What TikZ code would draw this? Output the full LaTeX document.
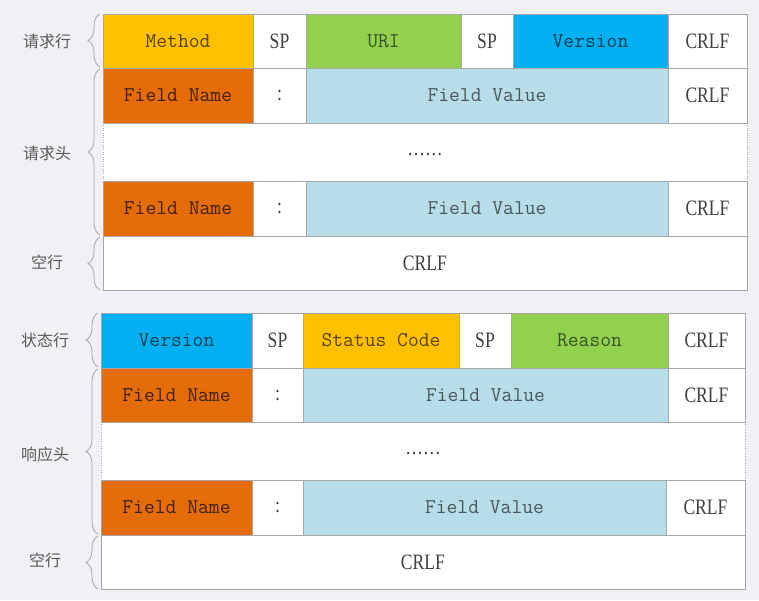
\documentclass[tikz,border=0pt]{standalone}
\usepackage{fontspec}
\setmainfont{Liberation Serif}
\newfontfamily\narrowserif[FakeStretch=0.8]{Liberation Serif}
\newfontfamily\cjk{Noto Sans CJK SC}
\usetikzlibrary{decorations.pathreplacing}

\definecolor{bgcol}{HTML}{F1F1F5}
\definecolor{linecol}{HTML}{A6A6A6}
\definecolor{gold}{HTML}{FFC000}
\definecolor{grass}{HTML}{92D050}
\definecolor{sky}{HTML}{00B0F0}
\definecolor{rust}{HTML}{E46C0A}
\definecolor{ice}{HTML}{B7DDE8}

\tikzset{
  cell/.style={draw=linecol, line width=0.8pt},
  mono/.style={font=\fontsize{21}{21}\selectfont\ttfamily},
  serif/.style={font=\fontsize{22}{22}\selectfont\narrowserif, text=black!75},
  tag/.style={font=\fontsize{16}{16}\selectfont\cjk, text=black!65},
  curly/.style={draw=linecol, line width=0.8pt, decorate,
    decoration={brace, amplitude=12pt}},
}

\begin{document}
\begin{tikzpicture}[x=1pt, y=-1pt]
	\fill[bgcol] (0,0) rectangle (759,600);

	% Request line
	\draw[cell, fill=gold] (103,14) rectangle (253,68);
	\draw[cell, fill=white] (253,14) rectangle (306,68);
	\draw[cell, fill=grass] (306,14) rectangle (461,68);
	\draw[cell, fill=white] (461,14) rectangle (513,68);
	\draw[cell, fill=sky] (513,14) rectangle (668,68);
	\draw[cell, fill=white] (668,14) rectangle (747,68);
	\node[mono, text=gold!35!black] (method) at (178,41) {Method};
	\node[serif] (sp1) at (279.5,41) {SP};
	\node[mono, text=grass!40!black] (uri) at (383.5,41) {URI};
	\node[serif] (sp2) at (487,41) {SP};
	\node[mono, text=sky!35!black] (version1) at (590.5,41) {Version};
	\node[serif] (crlf1) at (707.5,41) {CRLF};

	% Request header
	\fill[white] (103,123) rectangle (747,181);
	\draw[linecol, dotted] (103,123) -- (103,181);
	\draw[linecol, dotted] (747,123) -- (747,181);
	\node[serif] (dots1) at (425,155) {……};

	\draw[cell, fill=rust] (103,68) rectangle (253,123);
	\draw[cell, fill=white] (253,68) rectangle (306,123);
	\draw[cell, fill=ice] (306,68) rectangle (668,123);
	\draw[cell, fill=white] (668,68) rectangle (747,123);
	\node[mono, text=rust!30!black] (name1) at (178,95.5) {Field Name};
	\node[serif] (colon1) at (279.5,95.5) {:};
	\node[mono, text=ice!40!black] (value1) at (487,95.5) {Field Value};
	\node[serif] (crlf2) at (707.5,95.5) {CRLF};

	\draw[cell, fill=rust] (103,181) rectangle (253,236);
	\draw[cell, fill=white] (253,181) rectangle (306,236);
	\draw[cell, fill=ice] (306,181) rectangle (668,236);
	\draw[cell, fill=white] (668,181) rectangle (747,236);
	\node[mono, text=rust!30!black] (name2) at (178,208.5) {Field Name};
	\node[serif] (colon2) at (279.5,208.5) {:};
	\node[mono, text=ice!40!black] (value2) at (487,208.5) {Field Value};
	\node[serif] (crlf3) at (707.5,208.5) {CRLF};

	% Blank line
	\draw[cell, fill=white] (103,236) rectangle (747,290);
	\node[serif] (crlf4) at (425,263) {CRLF};

	% Braces
	\draw[curly] (100,67) -- (100,14);
	\draw[curly] (100,235) -- (100,69);
	\draw[curly] (100,290) -- (100,237);
	\node[tag] (reqline) at (47,41) {请求行};
	\node[tag] (reqhead) at (47,153) {请求头};
	\node[tag] (reqblank) at (47,262) {空行};

	% Status line
	\draw[cell, fill=sky] (101,313) rectangle (252,368);
	\draw[cell, fill=white] (252,313) rectangle (303,368);
	\draw[cell, fill=gold] (303,313) rectangle (459,368);
	\draw[cell, fill=white] (459,313) rectangle (511,368);
	\draw[cell, fill=grass] (511,313) rectangle (668,368);
	\draw[cell, fill=white] (668,313) rectangle (745,368);
	\node[mono, text=sky!35!black] (version2) at (176.5,340.5) {Version};
	\node[serif] (sp3) at (277.5,340.5) {SP};
	\node[mono, text=gold!35!black] (status) at (381,340.5) {Status Code};
	\node[serif] (sp4) at (485,340.5) {SP};
	\node[mono, text=grass!40!black] (reason) at (589.5,340.5) {Reason};
	\node[serif] (crlf5) at (706.5,340.5) {CRLF};

	% Response header
	\fill[white] (101,422) rectangle (745,480);
	\draw[linecol, dotted] (101,422) -- (101,480);
	\draw[linecol, dotted] (745,422) -- (745,480);
	\node[serif] (dots2) at (423,454) {……};

	\draw[cell, fill=rust] (101,368) rectangle (252,422);
	\draw[cell, fill=white] (252,368) rectangle (303,422);
	\draw[cell, fill=ice] (303,368) rectangle (668,422);
	\draw[cell, fill=white] (668,368) rectangle (745,422);
	\node[mono, text=rust!30!black] (name3) at (176.5,395) {Field Name};
	\node[serif] (colon3) at (277.5,395) {:};
	\node[mono, text=ice!40!black] (value3) at (485.5,395) {Field Value};
	\node[serif] (crlf6) at (706.5,395) {CRLF};

	\draw[cell, fill=rust] (101,480) rectangle (252,535);
	\draw[cell, fill=white] (252,480) rectangle (303,535);
	\draw[cell, fill=ice] (303,480) rectangle (666,535);
	\draw[cell, fill=white] (666,480) rectangle (745,535);
	\node[mono, text=rust!30!black] (name4) at (176.5,507.5) {Field Name};
	\node[serif] (colon4) at (277.5,507.5) {:};
	\node[mono, text=ice!40!black] (value4) at (484.5,507.5) {Field Value};
	\node[serif] (crlf7) at (705.5,507.5) {CRLF};

	% Blank line
	\draw[cell, fill=white] (101,535) rectangle (745,589);
	\node[serif] (crlf8) at (423,562) {CRLF};

	% Braces
	\draw[curly] (98,367) -- (98,313);
	\draw[curly] (98,534) -- (98,369);
	\draw[curly] (98,589) -- (98,536);
	\node[tag] (resline) at (45,340) {状态行};
	\node[tag] (reshead) at (45,454) {响应头};
	\node[tag] (resblank) at (45,560) {空行};
\end{tikzpicture}
\end{document}
